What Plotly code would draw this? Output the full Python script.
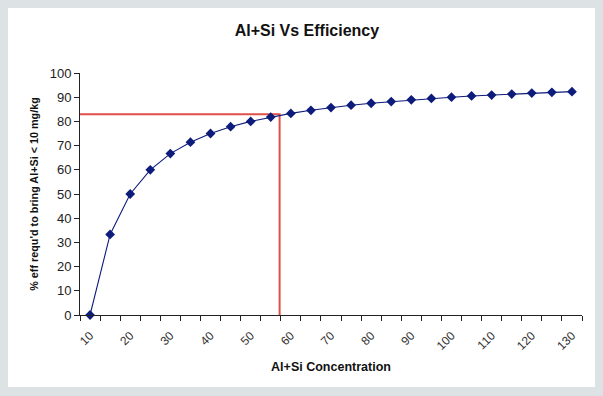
import plotly.graph_objects as go

concentration = [10, 15, 20, 25, 30, 35, 40, 45, 50, 55, 60, 65, 70, 75, 80,
                 85, 90, 95, 100, 105, 110, 115, 120, 125, 130]
efficiency = [0.0, 33.3, 50.0, 60.0, 66.7, 71.4, 75.0, 77.8, 80.0, 81.8, 83.3,
              84.6, 85.7, 86.7, 87.5, 88.2, 88.9, 89.5, 90.0, 90.5, 90.9, 91.3,
              91.7, 92.0, 92.3]
x_tick_labels = [10, 20, 30, 40, 50, 60, 70, 80, 90, 100, 110, 120, 130]
y_ticks = [0, 10, 20, 30, 40, 50, 60, 70, 80, 90, 100]
ref_eff = 83.0
ref_conc = 57.2

navy = "#0d1b7a"
red = "#e0504a"
FONT = "Liberation Sans, Arial, sans-serif"

fig = go.Figure()
# red reference lines
fig.add_trace(go.Scatter(x=[concentration[0] - 2.5, ref_conc, ref_conc],
                         y=[ref_eff, ref_eff, 0], mode="lines",
                         line=dict(color=red, width=2), hoverinfo="skip",
                         showlegend=False, cliponaxis=False))
fig.add_trace(go.Scatter(x=concentration, y=efficiency, mode="lines+markers",
                         line=dict(color=navy, width=1.1),
                         marker=dict(symbol="diamond", size=7.5, color=navy),
                         showlegend=False, cliponaxis=False))

# white panel on gray background
fig.add_shape(type="rect", xref="paper", yref="paper",
              x0=-0.1434, x1=1.0259, y0=-0.2975, y1=1.2686,
              fillcolor="white", line=dict(width=0), layer="below")

fig.update_layout(
    width=603, height=396,
    margin=dict(l=80, r=21, t=73, b=81),
    paper_bgcolor="#dde2e5", plot_bgcolor="white",
    font=dict(family=FONT, color="#1a1a1a", size=12),
    title=dict(text="<b>Al+Si Vs Efficiency</b>", x=0.452, xanchor="center",
               xref="paper", y=1 - 30 / 396, yanchor="middle",
               font=dict(size=16, family=FONT, color="#111")),
)
fig.update_xaxes(
    automargin=False,
    range=[concentration[0] - 2.5, concentration[-1] + 2.5],
    tickmode="array", tickvals=x_tick_labels,
    ticktext=[str(v) for v in x_tick_labels],
    tickangle=-45, ticks="outside", ticklen=8, tickcolor="rgba(0,0,0,0)",
    tickfont=dict(size=12, color="#333"),
    showgrid=False, zeroline=False,
    showline=True, linecolor="#222", linewidth=1,
    minor=dict(tick0=concentration[0] - 2.5, dtick=5, ticks="outside",
               ticklen=5, tickcolor="#222", showgrid=False),
    title=dict(text="<b>Al+Si Concentration</b>",
               font=dict(size=12.5, family=FONT, color="#111"), standoff=10),
)
fig.update_yaxes(
    automargin=False,
    range=[0, 100], tickmode="array", tickvals=y_ticks,
    ticks="outside", ticklen=5, tickcolor="#222",
    tickfont=dict(size=13, color="#222"),
    showgrid=False, zeroline=False,
    showline=True, linecolor="#222", linewidth=1,
    title=dict(text="<b>% eff requ'd to bring Al+Si < 10 mg/kg</b>",
               font=dict(size=10.8, family=FONT, color="#111"), standoff=8),
)

fig.write_html("out.html",
               config={"displayModeBar": False},
               post_script="document.body.style.margin='0';"
                           "document.body.style.background='#dde2e5';")
